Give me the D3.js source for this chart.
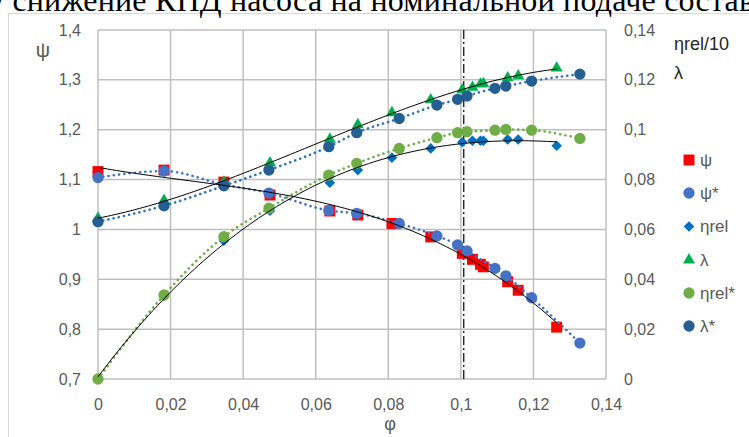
<!DOCTYPE html>
<html>
<head>
<meta charset="utf-8">
<script src="https://cdn.jsdelivr.net/npm/d3@7"></script>
<style>
  html, body { margin: 0; padding: 0; background: #fff; overflow: hidden; }
  svg { display: block; }
</style>
</head>
<body>
<svg id="chart" width="749" height="437"></svg>
<script>
// Measured points (ψ, ηrel/10, λ share the same flow coefficients)
const phiMeas = [0, 0.0182, 0.0347, 0.0474, 0.0639, 0.0716, 0.0810, 0.0917, 0.1004, 0.1032, 0.1054, 0.1062, 0.1129, 0.1158, 0.1264];
const psi     = [1.116, 1.119, 1.095, 1.069, 1.037, 1.029, 1.012, 0.985, 0.952, 0.940, 0.930, 0.925, 0.895, 0.878, 0.804];
const etaRel  = [0, 0.0333, 0.0555, 0.0675, 0.0787, 0.0838, 0.0888, 0.0925, 0.0950, 0.0956, 0.0956, 0.0956, 0.0961, 0.0961, 0.0936];
const lambda  = [0.0645, 0.0716, 0.0790, 0.0867, 0.0962, 0.1020, 0.1068, 0.1120, 0.1160, 0.1170, 0.1183, 0.1185, 0.1208, 0.1216, 0.1247];

// Computed points (starred series)
const phiCalc    = [0, 0.0182, 0.0347, 0.0471, 0.0636, 0.0713, 0.0830, 0.0934, 0.0991, 0.1017, 0.1094, 0.1124, 0.1195, 0.1328];
const psiStar    = [1.104, 1.117, 1.090, 1.073, 1.038, 1.032, 1.012, 0.987, 0.969, 0.957, 0.922, 0.907, 0.863, 0.772];
const etaRelStar = [0, 0.0337, 0.0571, 0.0685, 0.0818, 0.0865, 0.0925, 0.0968, 0.0988, 0.0992, 0.0998, 0.1001, 0.0998, 0.0965];
const lambdaStar = [0.0631, 0.0695, 0.0775, 0.0838, 0.0932, 0.0988, 0.1045, 0.1099, 0.1122, 0.1135, 0.1166, 0.1175, 0.1195, 0.1223];

// Nominal flow marker
const phiNominal = 0.1008;

// Axis ticks
const xTicks      = [0, 0.02, 0.04, 0.06, 0.08, 0.10, 0.12, 0.14];
const yLeftTicks  = [0.7, 0.8, 0.9, 1.0, 1.1, 1.2, 1.3, 1.4];
const yRightTicks = [0, 0.02, 0.04, 0.06, 0.08, 0.10, 0.12, 0.14];

const legendLabels = ["ψ", "ψ*", "ηrel", "λ", "ηrel*", "λ*"];

const headerText = "у снижение КПД насоса на номинальной подаче состав";

// ---------------------------------------------------------------
const svg = d3.select("#chart");
const W = 749, H = 437;
const plot = { left: 98, right: 606, top: 30, bottom: 379 };
const FONT = "'Liberation Sans', Arial, sans-serif";
const GREY = "#595959";

const x  = d3.scaleLinear().domain([0, 0.14]).range([plot.left, plot.right]);
const yL = d3.scaleLinear().domain([0.7, 1.4]).range([plot.bottom, plot.top]);
const yR = d3.scaleLinear().domain([0, 0.14]).range([plot.bottom, plot.top]);

const loc = d3.formatLocale({ decimal: ",", thousands: " ", grouping: [3], currency: ["", ""] });
const fmt = loc.format(".6~f");

// chart frame and surrounding document text
svg.append("rect").attr("x", 8.5).attr("y", 13.5).attr("width", W + 20).attr("height", H + 20)
  .attr("fill", "#fff").attr("stroke", "#d9d9d9").attr("stroke-width", 1);

svg.append("text").attr("x", -12).attr("y", 11)
  .attr("font-family", "'Liberation Serif', 'Times New Roman', serif")
  .attr("font-size", 32).attr("fill", "#000")
  .attr("textLength", 766).attr("lengthAdjust", "spacing")
  .text(headerText);

// gridlines
const grid = svg.append("g").attr("stroke", "#bfbfbf").attr("stroke-width", 1.5);
grid.selectAll("line.h").data(yLeftTicks).join("line")
  .attr("x1", plot.left).attr("x2", plot.right)
  .attr("y1", d => yL(d)).attr("y2", d => yL(d));
grid.selectAll("line.v").data(xTicks).join("line")
  .attr("y1", plot.top).attr("y2", plot.bottom)
  .attr("x1", d => x(d)).attr("x2", d => x(d));

// axes (labels only)
function styleAxis(g) {
  g.select(".domain").remove();
  g.selectAll(".tick line").remove();
  g.selectAll(".tick text").attr("font-family", FONT).attr("font-size", 16).attr("fill", GREY);
}
svg.append("g").attr("transform", `translate(0,${plot.bottom})`)
  .call(d3.axisBottom(x).tickValues(xTicks).tickFormat(fmt).tickSize(0).tickPadding(20))
  .call(styleAxis);
svg.append("g").attr("transform", `translate(${plot.left},0)`)
  .call(d3.axisLeft(yL).tickValues(yLeftTicks).tickFormat(fmt).tickSize(0).tickPadding(17))
  .call(styleAxis);
svg.append("g").attr("transform", `translate(${plot.right},0)`)
  .call(d3.axisRight(yR).tickValues(yRightTicks).tickFormat(fmt).tickSize(0).tickPadding(18))
  .call(styleAxis);

// axis titles
svg.append("text").attr("x", 43).attr("y", 57).attr("text-anchor", "middle")
  .attr("font-family", FONT).attr("font-size", 20).attr("fill", GREY).text("ψ");
svg.append("text").attr("x", 390).attr("y", 430).attr("text-anchor", "middle")
  .attr("font-family", FONT).attr("font-size", 18).attr("fill", GREY).text("φ");
svg.append("text").attr("x", 674).attr("y", 50)
  .attr("font-family", FONT).attr("font-size", 18).attr("fill", "#262626").text("ηrel/10");
svg.append("text").attr("x", 674).attr("y", 79)
  .attr("font-family", FONT).attr("font-size", 18).attr("fill", "#262626").text("λ");

// nominal-flow line
svg.append("line")
  .attr("x1", x(phiNominal)).attr("x2", x(phiNominal))
  .attr("y1", plot.top).attr("y2", plot.bottom)
  .attr("stroke", "#000").attr("stroke-width", 1.2)
  .attr("stroke-dasharray", "9,3,2,3");

// series definitions
const series = [
  { label: "ψ",     xs: phiMeas, ys: psi,        y: yL, color: "#ff0000", shape: "square",   line: null },
  { label: "ψ*",    xs: phiCalc, ys: psiStar,    y: yL, color: "#4472c4", shape: "circle",   line: "#4472c4" },
  { label: "ηrel",  xs: phiMeas, ys: etaRel,     y: yR, color: "#0070c0", shape: "diamond",  line: null },
  { label: "λ",     xs: phiMeas, ys: lambda,     y: yR, color: "#00b050", shape: "triangle", line: null },
  { label: "ηrel*", xs: phiCalc, ys: etaRelStar, y: yR, color: "#70ad47", shape: "circle",   line: "#70ad47" },
  { label: "λ*",    xs: phiCalc, ys: lambdaStar, y: yR, color: "#255e91", shape: "circle",   line: "#2e75b6" }
];

const symbols = {
  square:   { d: d3.symbol(d3.symbolSquare, 120)(), rot: 0 },
  circle:   { d: d3.symbol(d3.symbolCircle, 100)(), rot: 0 },
  diamond:  { d: d3.symbol(d3.symbolSquare, 56)(),  rot: 45 },
  triangle: { d: d3.symbol(d3.symbolTriangle, 62)(), rot: 0 }
};

const seriesLayer = svg.append("g");
series.forEach(s => {
  const pts = s.xs.map((v, i) => [v, s.ys[i]]);
  if (s.line) {
    seriesLayer.append("path")
      .attr("d", d3.line().x(d => x(d[0])).y(d => s.y(d[1])).curve(d3.curveMonotoneX)(pts))
      .attr("fill", "none").attr("stroke", s.line).attr("stroke-width", 2.6)
      .attr("stroke-linecap", "round").attr("stroke-dasharray", "0.1,5.2");
  }
  const sym = symbols[s.shape];
  seriesLayer.append("g").selectAll("path").data(pts).join("path")
    .attr("transform", d => `translate(${x(d[0])},${s.y(d[1])}) rotate(${sym.rot})`)
    .attr("d", sym.d)
    .attr("fill", s.color);
});

// least-squares polynomial trend lines for the measured series
function polyfit(xs, ys, deg) {
  const n = deg + 1;
  const A = Array.from({ length: n }, () => new Array(n + 1).fill(0));
  xs.forEach((xv, k) => {
    for (let i = 0; i < n; i++) {
      for (let j = 0; j < n; j++) A[i][j] += Math.pow(xv, i + j);
      A[i][n] += ys[k] * Math.pow(xv, i);
    }
  });
  for (let c = 0; c < n; c++) {
    let p = c;
    for (let r = c + 1; r < n; r++) if (Math.abs(A[r][c]) > Math.abs(A[p][c])) p = r;
    [A[c], A[p]] = [A[p], A[c]];
    for (let r = 0; r < n; r++) {
      if (r === c) continue;
      const f = A[r][c] / A[c][c];
      for (let j = c; j <= n; j++) A[r][j] -= f * A[c][j];
    }
  }
  const coef = A.map((row, i) => row[n] / row[i]);
  return t => coef.reduce((acc, a, i) => acc + a * Math.pow(t, i), 0);
}

const trendLayer = svg.append("g");
[series[0], series[2], series[3]].forEach(s => {
  const f = polyfit(s.xs, s.ys, 3);
  const [lo, hi] = d3.extent(s.xs);
  const samples = d3.range(0, 101).map(i => lo + (hi - lo) * i / 100);
  trendLayer.append("path")
    .attr("d", d3.line().x(t => x(t)).y(t => s.y(f(t)))(samples))
    .attr("fill", "none").attr("stroke", "#000").attr("stroke-width", 1);
});

// legend
const legend = svg.append("g");
const legendY = [160, 193, 226.5, 260, 293, 326];
series.forEach((s, i) => {
  const sym = symbols[s.shape];
  const g = legend.append("g").attr("transform", `translate(689,${legendY[i]})`);
  g.append("path").attr("d", sym.d).attr("transform", `rotate(${sym.rot})`).attr("fill", s.color);
  g.append("text").attr("x", 11).attr("y", 0).attr("dy", "0.35em")
    .attr("font-family", FONT).attr("font-size", 17).attr("fill", GREY)
    .text(legendLabels[i]);
});
</script>
</body>
</html>
